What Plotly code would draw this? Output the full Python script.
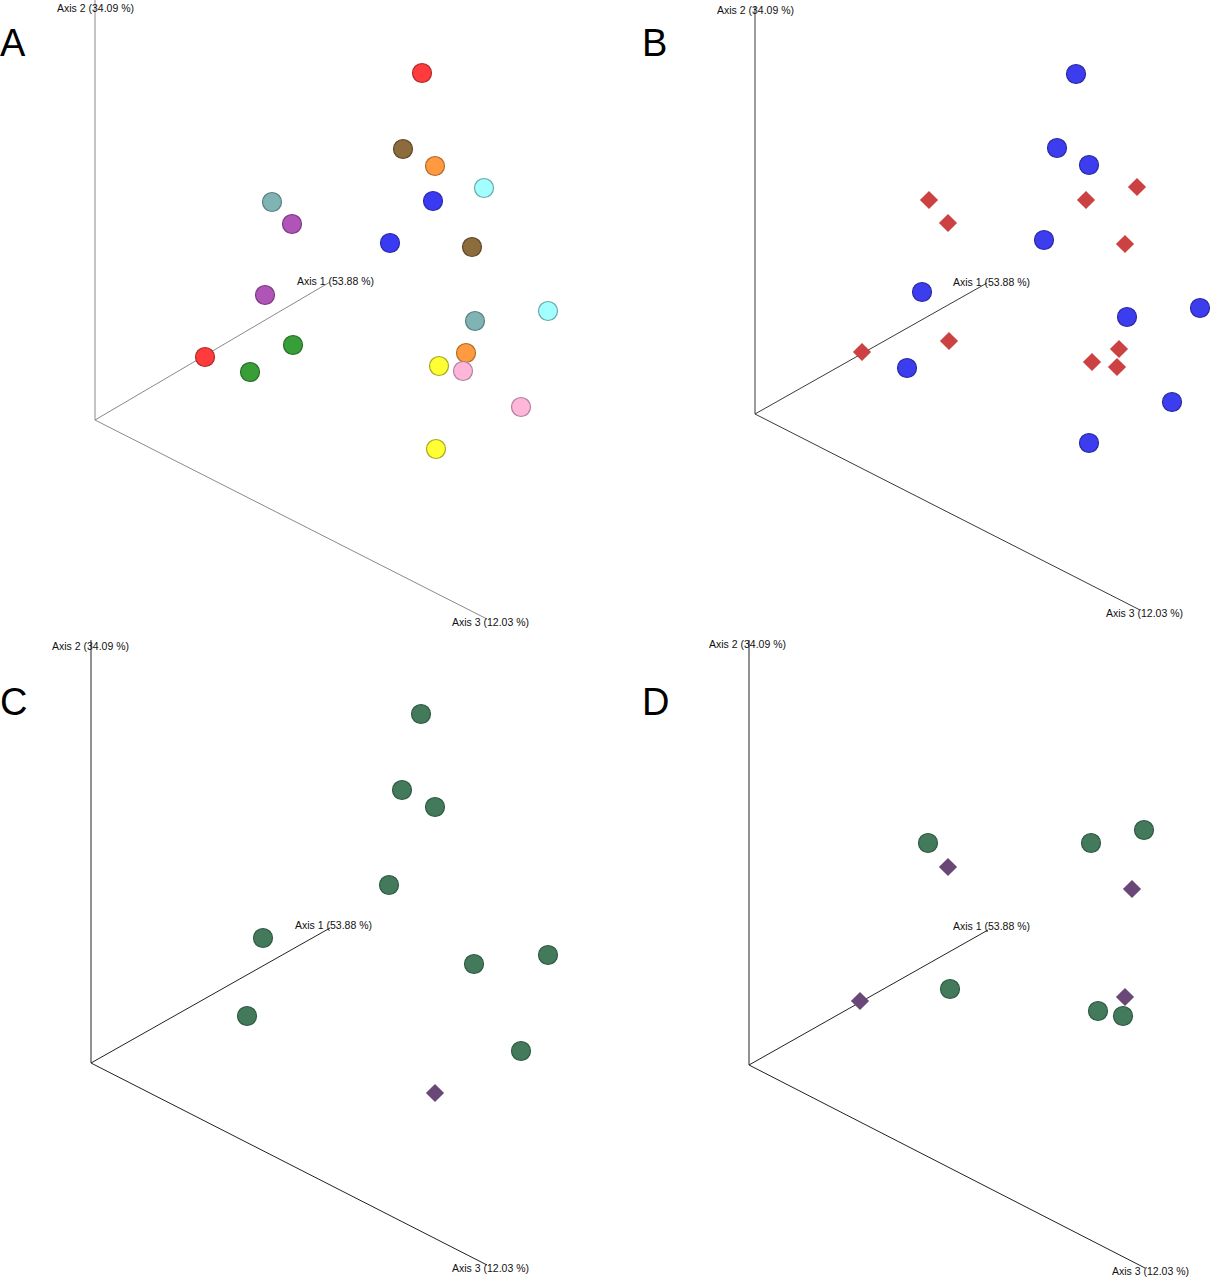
import plotly.graph_objects as go

# ---------------- data (projected PCoA coordinates, relative to each panel's axis origin) -------------
# Panel A: 10 groups, 2 samples each
a_groups = ["red", "brown", "orange", "cyan", "blue", "teal", "purple", "green", "yellow", "pink"]
a_x = [[327, 110], [308, 377], [340, 371], [389, 453], [338, 295],
       [177, 380], [197, 170], [198, 155], [344, 341], [368, 426]]
a_y = [[347, 63], [271, 173], [254, 67], [232, 109], [219, 177],
       [218, 99], [196, 125], [75, 48], [54, -29], [49, 13]]
a_fill = ["#ff3b3b", "#8c6b3c", "#ff9a40", "#a3ffff", "#3a3af2",
          "#80b4b4", "#b054b8", "#389e38", "#ffff33", "#ffb6d8"]
a_edge = ["#b02a2a", "#5e4828", "#b06a2c", "#6aa8a8", "#2a2aa6",
          "#5a7e7e", "#7a3a80", "#266e26", "#a8a820", "#b080a0"]

# Panel B: two groups
b_circ_x = [321, 302, 334, 289, 167, 445, 372, 152, 417, 334]
b_circ_y = [340, 266, 249, 174, 122, 106, 97, 46, 12, -29]
b_diam_x = [382, 174, 331, 193, 370, 194, 107, 364, 337, 362]
b_diam_y = [227, 214, 214, 191, 170, 73, 62, 65, 52, 47]

# Panel C
c_circ_x = [330, 311, 344, 298, 172, 457, 383, 156, 430]
c_circ_y = [349, 273, 256, 178, 125, 108, 99, 47, 12]
c_diam_x = [344]
c_diam_y = [-30]

# Panel D
d_circ_x = [179, 342, 395, 201, 349, 374]
d_circ_y = [222, 222, 235, 76, 54, 49]
d_diam_x = [199, 383, 111, 376]
d_diam_y = [198, 176, 64, 68]

# Axis tripod end points (Axis 1, Axis 2, Axis 3) per panel
axis_names = ["Axis 1 (53.88 %)", "Axis 2 (34.09 %)", "Axis 3 (12.03 %)"]
tripod = {
    "A": [(235, 138), (0, 421), (392, -199)],
    "B": [(232, 131), (0, 408), (385, -196)],
    "C": [(239, 135), (0, 427), (396, -202)],
    "D": [(239, 135), (0, 435), (396, -203)],
}
panel_letters = ["A", "B", "C", "D"]

# ---------------- layout geometry (pixels) ----------------
W, H = 1212, 1280
panels = {
    # name: (left, top, right, bottom, origin_x, origin_y)
    "A": (0, 0, 606, 640, 95, 420),
    "B": (606, 0, 1212, 640, 755, 414),
    "C": (0, 640, 606, 1280, 91, 1063),
    "D": (606, 640, 1212, 1280, 749, 1065),
}
line_col = {"A": "#8a8a8a", "B": "#3a3a3a", "C": "#222222", "D": "#222222"}
label_pos = {  # (x shift from endpoint, y shift in px, down positive) for labels of axes 1,2,3
    "A": [(-35, -1), (-40, 9), (-37, 3)],
    "B": [(-36, -1), (-40, 4), (-36, 3)],
    "C": [(-37, -3), (-41, 10), (-37, 3)],
    "D": [(-37, -4), (-42, 14), (-35, 3)],
}
letter_pos = {"A": (13, 43), "B": (654, 43), "C": (13, 702), "D": (655, 702)}

fig = go.Figure()
names = list(panels.keys())
for i, p in enumerate(names):
    l, t, r, b, ox, oy = panels[p]
    ax = "" if i == 0 else str(i + 1)
    xa, ya = "x" + ax, "y" + ax
    fig.update_layout(**{
        "xaxis" + ax: dict(domain=[l / W, r / W], range=[l - ox, r - ox], visible=False,
                           anchor=ya, fixedrange=True),
        "yaxis" + ax: dict(domain=[1 - b / H, 1 - t / H], range=[oy - b, oy - t], visible=False,
                           anchor=xa, fixedrange=True),
    })
    # axis tripod
    for k, (ex, ey) in enumerate(tripod[p]):
        fig.add_trace(go.Scatter(x=[0, ex], y=[0, ey], mode="lines", xaxis=xa, yaxis=ya,
                                 line=dict(color=line_col[p], width=1), hoverinfo="skip",
                                 showlegend=False, cliponaxis=False))
        dx, dy = label_pos[p][k]
        px, py = ox + ex + dx, oy - ey + dy
        fig.add_annotation(x=px / W, y=1 - py / H, xref="paper", yref="paper",
                           text=axis_names[k], showarrow=False,
                           xanchor="left", yanchor="middle",
                           font=dict(family="Liberation Sans, Arial", size=10.5, color="#111111"))
    lx, ly = letter_pos[p]
    fig.add_annotation(x=lx / W, y=1 - ly / H, xref="paper", yref="paper", text=p,
                       showarrow=False, xanchor="center", yanchor="middle",
                       font=dict(family="Liberation Sans, Arial", size=38, color="black"))

# Panel A points
for g, xs, ys, fc, ec in zip(a_groups, a_x, a_y, a_fill, a_edge):
    fig.add_trace(go.Scatter(x=xs, y=ys, mode="markers", name=g, xaxis="x", yaxis="y",
                             marker=dict(size=19, color=fc, symbol="circle",
                                         line=dict(color=ec, width=1.2)),
                             showlegend=False, cliponaxis=False))

def add_pair(ax, cx, cy, dx, dy, ccol, cedge, dcol):
    xa, ya = "x" + ax, "y" + ax
    fig.add_trace(go.Scatter(x=cx, y=cy, mode="markers", xaxis=xa, yaxis=ya,
                             marker=dict(size=19, color=ccol, symbol="circle",
                                         line=dict(color=cedge, width=1.2)),
                             showlegend=False, cliponaxis=False))
    fig.add_trace(go.Scatter(x=dx, y=dy, mode="markers", xaxis=xa, yaxis=ya,
                             marker=dict(size=14, color=dcol, symbol="diamond",
                                         line=dict(color=dcol, width=0)),
                             showlegend=False, cliponaxis=False))

add_pair("2", b_circ_x, b_circ_y, b_diam_x, b_diam_y, "#3d3df0", "#2a2aa0", "#cc4242")
add_pair("3", c_circ_x, c_circ_y, c_diam_x, c_diam_y, "#447a5c", "#2f5a42", "#694777")
add_pair("4", d_circ_x, d_circ_y, d_diam_x, d_diam_y, "#447a5c", "#2f5a42", "#694777")

fig.update_layout(width=W, height=H, margin=dict(l=0, r=0, t=0, b=0),
                  paper_bgcolor="white", plot_bgcolor="white", showlegend=False)
fig.write_html("out.html", config={"displayModeBar": False},
               post_script="document.body.style.margin='0px'; document.body.style.overflow='hidden';")
